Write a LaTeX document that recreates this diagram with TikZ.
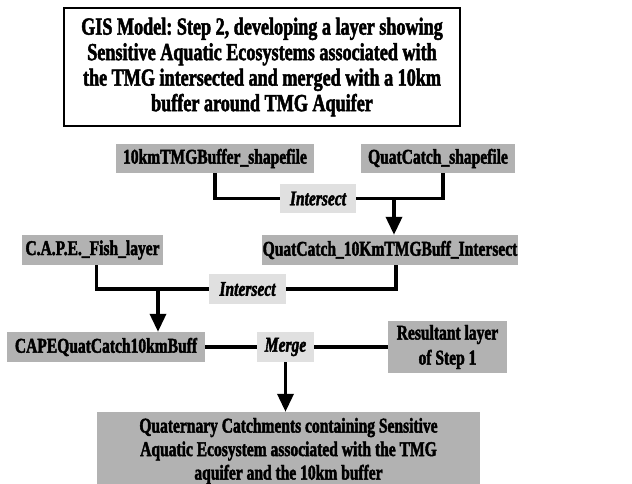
\documentclass[tikz,border=0pt]{standalone}
\usepackage{fontspec}
\setmainfont{Liberation Serif}[FakeStretch=0.74,FakeBold=2]
\usepackage{tikz}
\usetikzlibrary{arrows.meta,backgrounds}
\frenchspacing
\definecolor{layergray}{gray}{0.70}
\definecolor{opgray}{gray}{0.88}
\tikzstyle{titlebox}=[
	rectangle,
	draw=black,
	line width=2,
	align=center,
	font=\fontsize{24.5}{25.5}\selectfont\bfseries,
	minimum width=396,
	minimum height=118]
\tikzstyle{layer}=[
	rectangle,
	fill=layergray,
	align=center,
	inner sep=1,
	font=\fontsize{21}{25}\selectfont\bfseries,
	minimum height=29]
\tikzstyle{op}=[
	rectangle,
	fill=opgray,
	align=center,
	inner sep=1,
	font=\fontsize{21}{25}\selectfont\bfseries\itshape,
	minimum height=29]
\tikzstyle{link}=[
	line width=3.5,
	line cap=round]
\tikzstyle{flow}=[
	line width=3.5,
	-{Triangle[length=18pt,width=16pt]}]
\begin{document}
\begin{tikzpicture}[x=1pt,y=-1pt]
	\useasboundingbox (0,0) rectangle (632,484);
	\node[titlebox]	(title)	at (262,67)	{GIS Model: Step 2, developing a layer showing\\Sensitive Aquatic Ecosystems associated with\\the TMG intersected and merged with a 10km\\buffer around TMG Aquifer};
	\begin{scope}
		\node[layer,minimum width=198]	(buff)	at (215,158.5)	{10kmTMGBuffer\_shapefile};
		\node[layer,minimum width=154]	(quat)	at (438,158.5)	{QuatCatch\_shapefile};
		\node[op,minimum width=76]	(isect1)	at (318,198.5)	{Intersect};
		\node[layer,minimum width=256,minimum height=30]	(qint)	at (390,250)	{QuatCatch\_10KmTMGBuff\_Intersect};
	\end{scope}
	\begin{scope}
		\node[layer,minimum width=141,minimum height=30]	(cape)	at (92.5,250)	{C.A.P.E.\_Fish\_layer};
		\node[op,minimum width=77,minimum height=30]	(isect2)	at (247.5,289)	{Intersect};
		\node[layer,minimum width=198,minimum height=30]	(capeq)	at (106,347)	{CAPEQuatCatch10kmBuff};
	\end{scope}
	\begin{scope}
		\node[op,minimum width=57,minimum height=30]	(merge)	at (285.5,347)	{Merge};
		\node[layer,minimum width=119,minimum height=52]	(res)	at (447.5,347)	{Resultant layer\\of Step 1};
		\node[layer,minimum width=383,minimum height=78,font=\fontsize{21}{23.5}\selectfont\bfseries]	(final)	at (288.5,451)	{Quaternary Catchments containing Sensitive\\Aquatic Ecosystem associated with the TMG\\aquifer and the 10km buffer};
	\end{scope}
	\begin{pgfonlayer}{background}
		\draw[link] (buff.south) |- (isect1.west);
		\draw[link] (isect1.east) -| ([xshift=5]quat.south);
		\coordinate (j1) at (394,198.5);
		\draw[flow] (j1) -- (j1 |- qint.north);
		\draw[link] ([xshift=4]cape.south) |- (isect2.west);
		\draw[link] (isect2.east) -| ([xshift=6]qint.south);
		\coordinate (j2) at (158,289);
		\draw[flow] (j2) -- (j2 |- capeq.north);
		\draw[link] (capeq.east) -- (merge.west);
		\draw[link] (merge.east) -- (res.west);
		\draw[flow] (merge.south) -- (merge.south |- final.north);
	\end{pgfonlayer}
\end{tikzpicture}
\end{document}
